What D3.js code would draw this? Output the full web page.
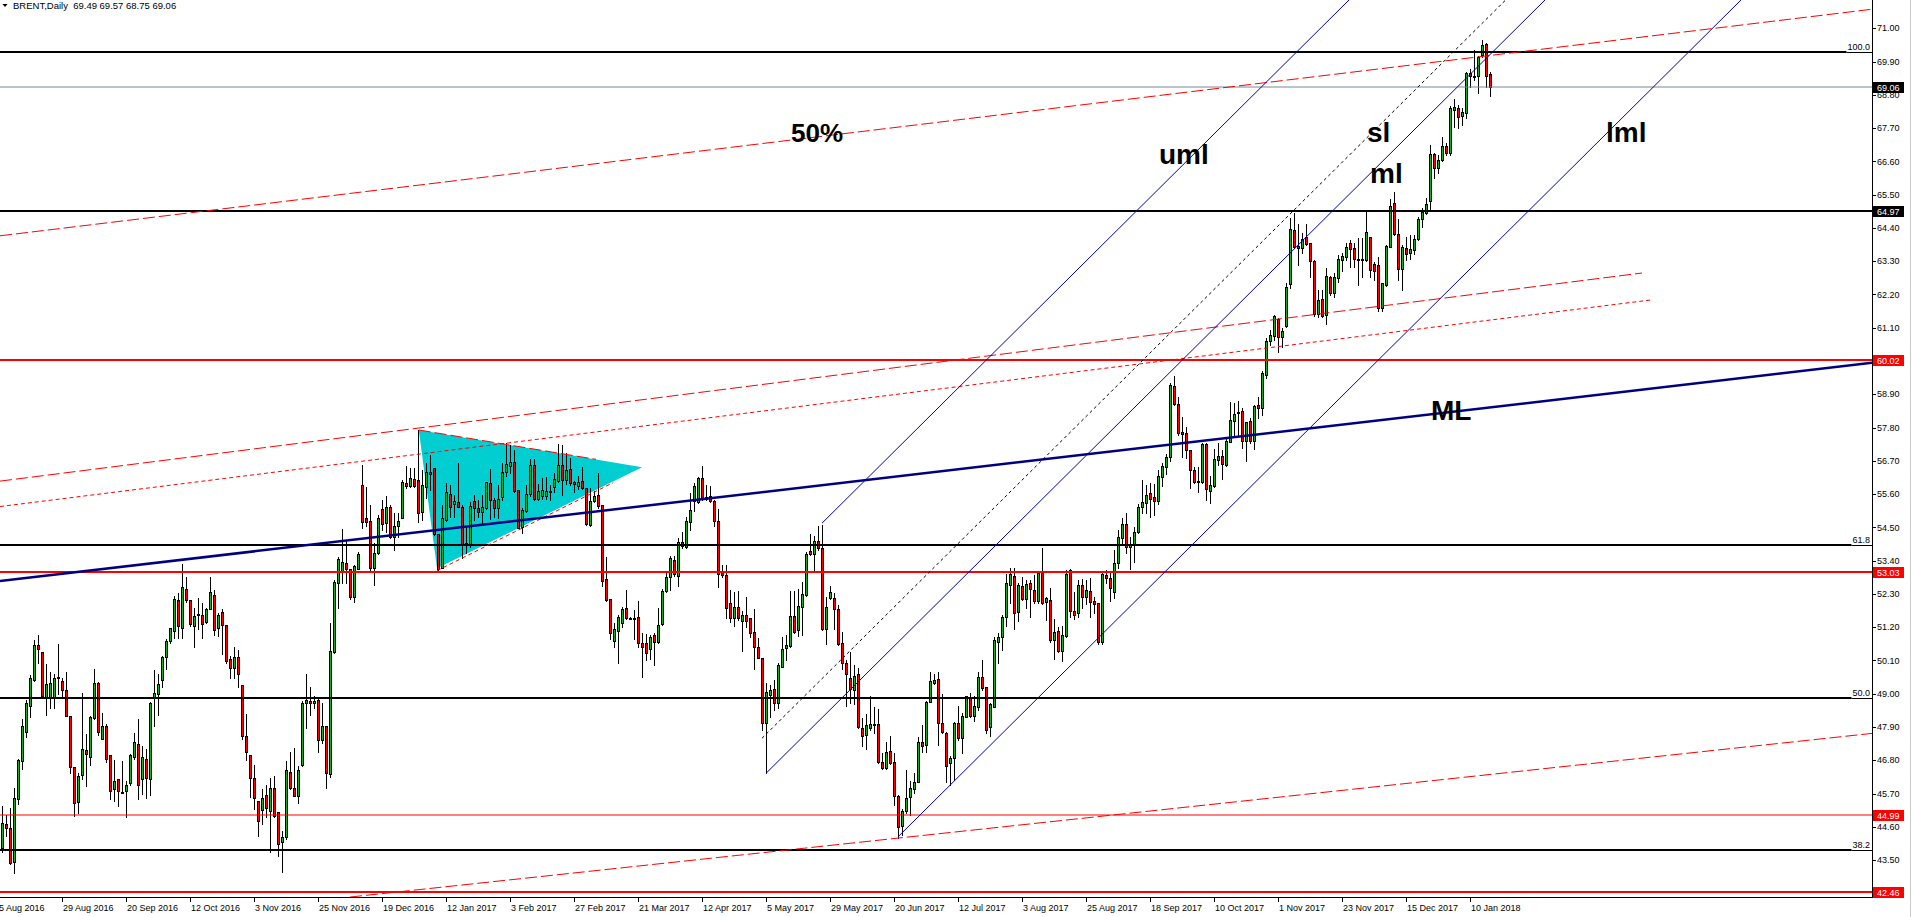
<!DOCTYPE html>
<html lang="en">
<head>
<meta charset="UTF-8">
<title>BRENT, Daily</title>
<script src="https://d3js.org/d3.v7.min.js"></script>
<style>
  html, body { margin: 0; padding: 0; background: #fff; overflow: hidden; }
  svg { display: block; font-family: "Liberation Sans", Arial, sans-serif; }
  .axis text { font-size: 9px; fill: #000; }
  .note { font-size: 28px; font-weight: bold; fill: #000; }
</style>
</head>
<body>
<svg id="chart" width="1913" height="917"></svg>
<script>
// daily candles [open, high, low, close], one row per bar
const augNov2016 = [
  [44.90,45.30,43.80,43.95],[43.89,45.29,43.78,44.74],[44.71,44.99,44.31,44.57],[44.55,45.21,43.37,43.41],
  [43.45,45.90,43.08,45.57],[45.53,46.85,45.35,46.80],[46.79,48.18,46.51,47.92],[47.74,48.81,47.58,48.71],
  [48.58,49.62,48.24,49.51],[49.46,50.77,49.42,50.60],[50.60,50.93,50.03,50.47],[50.37,50.37,48.90,48.92],
  [48.87,50.00,48.31,49.31],[48.87,49.71,48.54,49.37],[48.87,49.67,48.53,49.51],[49.51,50.64,48.99,49.54],
  [49.41,49.51,48.87,49.14],[49.14,49.71,48.27,48.28],[48.28,48.28,46.39,46.59],[46.57,46.57,44.97,45.38],
  [45.43,46.37,45.07,46.27],[46.33,49.04,46.18,47.19],[47.13,47.67,45.96,47.02],[46.90,48.27,46.66,48.22],
  [48.21,49.82,48.16,49.37],[49.37,49.40,47.63,47.74],[47.52,48.38,47.49,47.92],[47.92,48.00,46.74,46.86],
  [46.96,46.96,45.51,45.80],[45.86,46.81,45.46,46.10],[46.19,46.19,45.30,45.77],[45.74,46.77,45.71,45.71],
  [45.77,46.12,44.93,45.97],[46.04,47.01,45.98,46.96],[46.92,47.71,46.86,47.39],[47.33,48.16,45.53,45.97],
  [46.17,47.26,45.68,46.90],[46.86,47.19,45.56,46.20],[46.17,48.74,45.67,48.68],[48.86,49.78,47.94,49.04],
  [48.98,49.65,48.31,49.31],[49.44,50.25,49.21,50.23],[50.23,50.81,49.82,50.74],[50.76,51.18,50.68,51.16],
  [51.06,52.24,50.85,52.12],[52.09,52.32,50.86,51.25],[51.19,53.29,50.85,52.52],[52.45,52.85,52.02,52.10],
  [52.09,52.09,51.25,51.31],[51.25,51.85,50.55,51.56],[51.61,52.18,51.14,51.63],[51.62,52.01,50.85,51.31],
  [51.37,51.85,51.35,51.81],[51.81,52.85,51.81,52.35],[52.28,52.44,50.94,51.12],[51.16,51.68,50.91,51.59],
  [51.69,51.80,50.33,51.26],[51.29,51.29,50.03,50.09],[50.14,50.26,49.53,49.85],[49.84,50.54,49.53,50.23],
  [50.20,50.44,49.23,49.67],[49.28,49.28,47.52,47.61],[47.59,48.34,46.81,47.06],[46.99,46.99,45.60,46.22],
  [46.20,46.66,45.19,45.54],[45.47,45.47,44.31,44.81],[45.15,45.86,44.71,45.57],[45.64,46.00,44.93,45.23],
  [45.13,46.20,43.78,45.90],[45.87,46.29,44.93,44.97],[45.08,45.08,43.64,44.05],[44.11,44.47,43.12,44.25],
  [44.25,46.79,44.21,46.47],[46.43,47.09,45.85,45.90],[45.90,47.20,45.62,45.63],[45.61,46.61,45.38,46.47],
  [46.65,48.75,46.61,48.71],[48.71,49.67,47.88,48.78],[48.75,49.24,48.31,48.68],[48.68,48.92,48.54,48.75],
  [48.78,48.85,47.08,47.48],[47.48,48.71,47.36,47.95],[47.95,47.95,45.87,46.37]
];
const decMar2017 = [
  [46.34,51.35,46.26,50.41],[50.39,52.76,50.34,52.68],[52.65,53.53,51.85,53.44],[53.04,54.45,52.67,53.34],
  [53.31,54.06,52.67,53.11],[53.11,53.11,52.13,52.21],[52.21,53.25,52.04,53.22],[53.13,53.70,53.11,53.61],
  [55.90,56.56,54.47,54.69],[54.80,55.85,54.55,54.69],[54.71,55.24,53.01,53.17],[53.15,53.97,52.60,53.64],
  [53.64,54.91,53.61,54.80],[55.10,55.41,54.41,54.60],[54.63,55.54,54.36,55.16],[55.16,55.24,54.14,54.17],
  [54.19,54.96,53.75,54.55],[54.55,54.99,54.17,54.71],[54.82,56.07,54.80,56.01],[55.98,56.53,55.79,55.87],
  [55.87,56.45,55.85,56.12],[56.09,56.45,55.85,55.88],[56.07,57.72,54.69,54.99],[55.02,56.40,54.74,55.90],
  [55.85,56.62,55.46,56.34],[56.34,56.89,55.74,56.25],[56.45,56.47,54.25,54.27],[54.27,54.27,53.09,53.13],
  [53.17,55.24,53.15,54.80],[54.74,55.96,54.72,55.68],[55.60,55.90,54.85,55.16],[55.26,55.57,54.85,55.37],
  [55.33,56.64,55.16,55.18],[55.16,55.24,53.48,53.95],[53.92,54.55,53.64,53.97],[53.92,55.35,53.86,55.21],
  [55.37,55.57,54.74,55.13],[55.13,55.41,54.85,55.02],[55.02,55.57,54.63,55.16],[55.13,56.01,55.10,55.99],
  [55.98,56.42,54.78,55.41],[55.41,55.46,54.85,55.13],[55.13,55.90,54.80,55.43],[55.49,56.62,55.41,56.34],
  [56.34,57.28,56.21,56.60],[56.54,57.22,56.29,56.65],[56.67,57.06,55.68,55.70],[55.74,55.74,54.47,54.49],
  [54.52,55.13,54.33,55.07],[55.04,55.90,55.02,55.60],[55.60,56.75,55.54,56.56],[56.56,56.75,55.41,55.44],
  [55.45,55.92,55.41,55.70],[55.55,56.12,55.44,55.74],[55.54,56.15,55.44,55.71],[55.67,55.90,55.41,55.70],
  [55.85,56.29,55.68,56.09],[56.04,57.26,56.01,56.56],[56.56,57.22,55.57,56.07],[56.07,56.95,55.93,56.40],
  [56.42,56.78,55.90,55.96],[55.99,56.03,55.68,55.92],[55.88,56.20,55.77,56.01],[56.03,56.51,55.76,55.79],
  [55.79,55.79,54.58,54.60],[54.58,55.79,54.55,55.37],[55.38,55.70,55.35,55.54],[55.57,56.29,55.15,55.22],
  [55.24,55.24,52.57,52.74],[52.78,53.53,52.08,52.10],[52.12,52.12,50.81,51.00],[50.76,51.33,50.56,51.13],
  [51.07,51.60,50.01,51.55],[51.33,51.88,51.22,51.79],[51.82,52.43,51.46,51.49],[51.49,51.55,51.46,51.48],
  [51.52,51.77,50.81,51.52],[51.53,52.07,50.56,50.67],[50.69,51.00,49.56,50.56],[50.67,50.96,50.12,50.36],
  [50.49,50.94,50.14,50.87],[50.94,51.02,49.95,50.72]
];
const marJul2017 = [
  [50.72,51.83,50.69,51.27],[51.30,52.45,51.27,52.41],[52.41,53.04,52.38,52.85],[52.85,53.56,52.43,53.48],
  [53.42,53.56,52.91,52.96],[52.91,54.16,52.56,54.01],[54.01,54.34,53.81,53.88],[53.86,54.86,53.81,54.71],
  [54.67,55.63,54.42,55.08],[55.38,55.98,55.04,55.88],[55.35,56.16,55.30,56.12],[56.12,56.53,55.41,55.43],
  [55.43,55.90,55.41,55.50],[55.55,55.87,55.35,55.37],[55.37,55.41,54.53,54.72],[54.72,55.10,52.52,52.96],
  [53.00,53.26,52.85,52.93],[52.93,53.26,51.49,51.85],[51.99,52.43,51.38,51.49],[51.52,52.35,51.24,51.86],
  [51.86,52.41,51.44,51.49],[51.41,51.74,50.43,51.61],[51.61,52.21,51.22,51.39],[51.49,51.49,50.87,51.02],
  [51.03,51.79,49.81,50.56],[50.56,50.83,50.17,50.19],[50.17,50.17,47.80,48.05],[48.05,49.35,46.37,49.07],
  [48.96,49.29,48.24,49.13],[49.15,49.46,48.46,48.69],[48.69,50.01,48.52,49.95],[49.90,50.89,49.87,50.47],
  [50.50,50.94,50.10,50.61],[50.58,52.41,50.56,51.57],[51.57,52.41,51.02,51.05],[51.11,52.45,50.91,51.90],
  [51.88,52.71,50.94,52.29],[52.27,53.70,52.24,53.62],[53.72,54.28,53.59,53.61],[53.61,54.22,53.07,54.05],
  [54.05,54.53,53.75,53.81],[53.81,54.58,51.11,51.13],[51.13,52.21,50.64,51.86],[52.18,52.56,52.12,52.35],
  [52.18,52.32,51.13,51.79],[51.79,51.94,50.61,50.64],[50.67,51.05,49.82,50.01],[50.01,50.12,48.60,49.65],
  [49.53,50.39,48.69,49.15],[49.13,49.95,48.66,49.60],[49.64,49.84,47.86,47.89],[47.88,48.19,47.27,47.62],
  [47.64,48.32,47.16,47.97],[47.86,48.93,47.80,48.00],[47.97,48.57,47.69,48.00],[48.00,48.49,46.70,46.73],
  [46.73,47.03,46.51,46.54],[46.54,47.42,46.51,47.09],[47.11,47.61,46.68,46.70],[46.73,47.05,45.32,45.63],
  [45.63,45.65,44.24,44.61],[44.63,45.18,44.33,45.13],[45.14,46.48,45.05,45.54],[45.60,46.12,44.99,45.87],
  [45.85,46.37,45.71,46.09],[46.09,47.56,46.07,47.40],[47.40,47.97,47.09,47.27],[47.29,48.77,47.09,48.74],
  [48.74,49.73,48.72,49.42],[49.35,49.65,49.32,49.46],[49.48,49.73,47.29,48.05],[48.05,48.98,47.69,47.73],
  [47.69,47.75,46.09,46.62],[46.70,46.94,45.98,46.87],[46.87,48.08,46.15,48.02],[48.02,48.60,47.47,47.53],
  [47.53,48.38,47.03,48.28],[48.24,48.93,48.22,48.91],[48.88,49.01,48.24,48.28],[48.27,48.91,48.11,48.60],
  [48.57,49.73,48.46,49.57]
];
const julOct2017 = [
  [49.54,50.12,49.12,49.18],[49.21,49.24,47.71,47.80],[47.91,48.68,47.60,48.65],[48.57,50.87,48.55,50.78],
  [50.72,51.00,50.01,50.87],[50.87,51.60,50.45,51.55],[51.53,52.96,51.24,52.65],[52.60,53.15,51.99,52.96],
  [52.90,53.15,51.13,51.66],[51.69,52.65,51.42,52.60],[52.56,52.87,52.10,52.12],[52.12,52.76,51.82,52.62],
  [52.65,52.76,51.55,52.45],[52.43,52.93,51.99,52.08],[52.08,53.04,52.01,53.00],[53.00,53.81,51.97,51.99],
  [52.02,52.21,51.44,52.16],[52.10,52.49,50.70,50.77],[50.77,51.46,50.14,51.05],[51.09,51.20,50.39,50.42],
  [50.42,51.24,50.09,50.94],[50.91,53.09,50.89,52.96],[53.09,53.11,51.55,51.72],[51.74,52.38,51.46,51.60],
  [51.66,52.76,51.55,52.60],[52.60,52.78,51.82,52.19],[52.19,52.76,51.97,52.43],[52.41,52.82,51.53,52.04],
  [52.07,52.21,51.66,51.97],[52.01,52.01,50.65,50.72],[50.72,53.04,50.65,52.96],[52.93,53.09,52.65,52.84],
  [52.82,53.04,52.08,52.51],[52.38,53.75,52.18,53.31],[53.31,54.41,53.15,54.17],[54.16,54.80,53.97,54.61],
  [54.61,54.97,53.66,53.84],[53.86,54.19,53.11,53.94],[53.92,54.52,53.37,54.34],[54.34,55.26,54.30,55.16],
  [55.16,56.07,54.97,55.33],[55.30,55.90,54.97,55.57],[55.63,55.98,54.86,55.44],[55.52,55.93,54.91,55.38],
  [55.38,56.40,55.27,56.21],[56.18,56.62,55.87,56.54],[56.49,56.93,56.27,56.82],[56.84,59.26,56.71,59.21],
  [59.17,59.51,58.55,58.57],[58.57,58.82,57.55,57.63],[57.64,58.16,56.84,57.60],[57.61,57.81,56.78,57.06],
  [57.06,57.06,55.79,56.40],[56.40,56.51,55.96,56.01],[56.03,56.49,55.66,55.99],[55.99,57.28,55.96,57.25],
  [57.25,57.28,55.41,55.76],[55.72,56.20,55.30,55.90],[55.88,57.09,55.85,56.75],[56.73,57.30,56.56,56.86],
  [56.86,57.06,56.09,56.59],[56.56,57.44,56.54,57.37],[57.33,58.66,57.31,58.05],[58.03,58.60,57.55,58.24],
  [58.27,58.68,57.55,58.30],[58.35,58.44,57.14,57.36],[57.36,57.99,56.71,57.97],[58.02,58.11,57.28,57.37],
  [57.37,58.55,57.09,58.52],[58.55,58.82,58.11,58.46],[58.46,59.68,58.22,59.59]
];
const novJan2018 = [
  [59.54,60.75,59.43,60.67],[60.67,61.03,60.53,60.86],[60.83,61.52,60.69,61.49],[61.38,61.41,60.31,60.78],
  [60.78,61.08,60.47,60.99],[61.17,62.57,61.14,62.44],[62.55,64.72,62.40,64.35],[64.33,64.91,63.73,63.78],
  [63.80,64.52,63.17,63.73],[63.73,64.22,63.56,64.02],[64.09,64.53,63.84,63.87],[63.89,63.89,62.79,63.31],
  [63.32,63.34,61.50,61.55],[61.55,62.35,61.47,62.02],[62.04,62.35,61.47,61.50],[61.52,63.06,61.21,62.82],
  [62.79,62.81,62.18,62.24],[62.24,62.90,62.13,62.77],[62.76,63.51,62.62,63.36],[63.34,63.56,62.99,63.47],
  [63.43,63.91,63.34,63.76],[63.89,64.00,63.12,63.69],[63.73,63.89,63.12,63.37],[63.36,64.06,62.51,63.34],
  [63.36,64.06,62.79,63.34],[63.34,64.99,63.32,64.25],[64.09,64.11,62.79,63.01],[63.21,63.29,62.68,62.99],
  [63.17,63.45,61.67,61.74],[61.74,62.59,61.67,62.57],[62.51,63.84,62.49,63.80],[63.78,65.36,63.76,65.13],
  [65.21,65.60,64.17,64.20],[64.20,64.69,62.68,63.03],[63.03,63.84,62.35,63.76],[63.73,64.11,63.34,63.54],
  [63.56,64.17,63.36,63.70],[63.67,64.17,63.54,64.03],[64.02,64.77,64.00,64.69],[64.69,65.05,64.44,64.92],
  [64.90,65.38,64.86,65.19],[65.30,67.14,64.99,66.83],[66.83,66.87,66.04,66.37],[66.37,66.81,66.21,66.65],
  [66.65,67.42,66.62,67.11],[67.11,67.20,66.81,66.89],[66.87,68.43,66.81,68.38],[68.30,68.66,67.75,68.39],
  [68.35,68.46,67.69,68.08],[68.11,68.35,67.80,68.24],[68.19,69.57,68.02,69.51],[69.51,69.64,69.05,69.42],
  [69.40,70.28,69.29,69.43],[69.43,70.08,68.87,70.06],[70.12,70.61,70.06,70.45],[70.48,70.50,69.05,69.43],
  [69.49,69.57,68.75,69.06]
];

// date labels under every 16th bar
const dateLabels = ['5 Aug 2016','29 Aug 2016','20 Sep 2016','12 Oct 2016','3 Nov 2016','25 Nov 2016',
  '19 Dec 2016','12 Jan 2017','3 Feb 2017','27 Feb 2017','21 Mar 2017','12 Apr 2017','5 May 2017',
  '29 May 2017','20 Jun 2017','12 Jul 2017','3 Aug 2017','25 Aug 2017','18 Sep 2017','10 Oct 2017',
  '1 Nov 2017','23 Nov 2017','15 Dec 2017','10 Jan 2018'];
const priceTicks = [71.00,69.90,68.80,67.70,66.60,65.50,64.40,63.30,62.20,61.10,60.00,58.90,57.80,
  56.70,55.60,54.50,53.40,52.30,51.20,50.10,49.00,47.90,46.80,45.70,44.60,43.50,42.40];

// horizontal levels
const redLevels = [60.02, 53.03, 42.46];
const thinRedLevels = [44.99];
const blackLevels = [64.97];
const fibLevels = [['100.0', 70.21], ['61.8', 53.92], ['50.0', 48.87], ['38.2', 43.85]];
const bid = 69.06;

// trend lines as [bar, price] pairs
const channelTop = [[0.5, 64.14], [468.5, 71.63]];
const channelMid = [[0.5, 56.03], [411, 62.91]];
const channelDot = [[0.5, 55.19], [413.25, 62.02]];
const channelLow = [[88, 42.28], [468.5, 47.69]];
const medianML = [[0.5, 52.73], [468.5, 59.94]];
const triangle = [[105.2, 57.72], [161, 56.49], [109.75, 53.15]];
const triUpper = [[105.2, 57.72], [149.5, 56.75]];
const triLower = [[109.75, 53.07], [153.8, 55.98]];
// pitchfork pivots and the parallel dashed line start
const forkPivots = [[192, 46.37], [206, 54.64], [225, 44.27]];
const slStart = [191, 47.53];

const notes = [['50%', 198.25, 67.24, 26], ['uml', 290.25, 66.53, 28], ['sl', 342.25, 67.25, 28],
  ['ml', 343, 65.90, 28], ['lml', 402, 67.23, 28], ['ML', 358.25, 58.05, 28]];

const candles = [].concat(augNov2016, decMar2017, marJul2017, julOct2017, novJan2018);

const W = 1872, H = 897;
const x = d3.scaleLinear().domain([0, 468.5]).range([-2, W]);
const y = d3.scaleLinear().domain([71, 42.46]).range([28.3, 891.6]);
const px = p => [x(p[0]), y(p[1])];

const svg = d3.select('#chart');
svg.append('defs').append('clipPath').attr('id', 'plotClip')
  .append('rect').attr('x', 0).attr('y', 0).attr('width', W).attr('height', H);

const plot = svg.append('g').attr('clip-path', 'url(#plotClip)');

// triangle sits behind the candles
plot.append('polygon')
  .attr('points', triangle.map(p => px(p).join(',')).join(' '))
  .attr('fill', '#00ced1');

// candles
const bars = plot.append('g').attr('shape-rendering', 'crispEdges')
  .selectAll('g').data(candles).enter().append('g');
bars.append('line')
  .attr('x1', (d, i) => x(i) + 0.5).attr('x2', (d, i) => x(i) + 0.5)
  .attr('y1', d => Math.round(y(d[1]))).attr('y2', d => Math.round(y(d[2])) + 1)
  .attr('stroke', '#000');
bars.append('rect')
  .attr('x', (d, i) => x(i) - 0.5).attr('width', 2)
  .attr('y', d => Math.round(y(Math.max(d[0], d[3]))) + 0.5)
  .attr('height', d => Math.max(1, Math.round(y(Math.min(d[0], d[3]))) - Math.round(y(Math.max(d[0], d[3])))))
  .attr('fill', d => d[3] >= d[0] ? '#22aa22' : '#ff0000')
  .attr('stroke', '#000');

// horizontal levels
function hline(v, color, width, x2) {
  const yy = Math.round(y(v));
  plot.append('line').attr('x1', 0).attr('x2', x2 || W).attr('y1', yy).attr('y2', yy)
    .attr('stroke', color).attr('stroke-width', width);
}
hline(bid, '#778899', 1);
redLevels.forEach(v => hline(v, '#ff0000', 2));
thinRedLevels.forEach(v => hline(v, '#ff0000', 1));
blackLevels.forEach(v => hline(v, '#000', 2));
fibLevels.forEach(f => {
  const yy = Math.round(y(f[1]));
  const lbl = svg.append('text').attr('class', 'axis').attr('x', W - 2).attr('y', yy - 2)
    .attr('text-anchor', 'end').style('font-size', '9px').text(f[0]);
  const start = W - 2 - lbl.node().getComputedTextLength() - 1;
  hline(f[1], '#000', 2, start);
  plot.append('line').attr('x1', start).attr('x2', W).attr('y1', yy + 0.5).attr('y2', yy + 0.5)
    .attr('stroke', '#000').attr('stroke-width', 1);
});

// trend lines
function seg(pts, color, width, dash) {
  const a = px(pts[0]), b = px(pts[1]);
  plot.append('line').attr('x1', a[0]).attr('y1', a[1]).attr('x2', b[0]).attr('y2', b[1])
    .attr('stroke', color).attr('stroke-width', width)
    .attr('stroke-dasharray', dash || null);
}
seg(channelTop, '#ff0000', 1, '12,4');
seg(channelMid, '#ff0000', 1, '12,4');
seg(channelDot, '#ff0000', 1, '4,3');
seg(channelLow, '#ff0000', 1, '12,4');
seg(triUpper, '#ff0000', 1, '12,4');
seg(triLower, '#ff0000', 1, '4,3');
seg(medianML, '#000080', 2.5);

// Andrews pitchfork: rays from each pivot, parallel to pivot1 -> midpoint(pivot2, pivot3)
const f1 = px(forkPivots[0]), f2 = px(forkPivots[1]), f3 = px(forkPivots[2]);
const dir = [(f2[0] + f3[0]) / 2 - f1[0], (f2[1] + f3[1]) / 2 - f1[1]];
function ray(p, color, dash) {
  const t = p[1] / -dir[1];
  plot.append('line').attr('x1', p[0]).attr('y1', p[1])
    .attr('x2', p[0] + t * dir[0]).attr('y2', 0)
    .attr('stroke', color).attr('stroke-width', 1).attr('stroke-dasharray', dash || null);
}
[f1, f2, f3].forEach(p => ray(p, '#0000a0'));
ray(px(slStart), '#000', '3,3');

// text notes
notes.forEach(n => {
  plot.append('text').attr('class', 'note').attr('x', x(n[1])).attr('y', y(n[2]))
    .style('font-size', n[3] + 'px').text(n[0]);
});

// right price axis
const ax = svg.append('g').attr('class', 'axis');
ax.append('line').attr('x1', W + 0.5).attr('x2', W + 0.5).attr('y1', 0).attr('y2', H + 1).attr('stroke', '#000');
ax.append('line').attr('x1', 1910.5).attr('x2', 1910.5).attr('y1', 0).attr('y2', 917).attr('stroke', '#c8c8c8');
ax.selectAll('line.ytick').data(priceTicks).enter().append('line')
  .attr('x1', W).attr('x2', W + 4)
  .attr('y1', d => Math.round(y(d)) + 0.5).attr('y2', d => Math.round(y(d)) + 0.5).attr('stroke', '#000');
ax.selectAll('text.ytick').data(priceTicks).enter().append('text')
  .attr('x', W + 5).attr('y', d => y(d)).attr('dy', '0.35em').text(d => d.toFixed(2));

// price tags
const tags = [[bid, '#000'], [blackLevels[0], '#000']]
  .concat(redLevels.map(v => [v, '#ff0000']), thinRedLevels.map(v => [v, '#ff0000']));
tags.forEach(t => {
  const yy = Math.round(y(t[0]));
  ax.append('rect').attr('x', W + 1).attr('y', yy - 5).attr('width', 31).attr('height', 11).attr('fill', t[1]);
  ax.append('text').attr('x', W + 5).attr('y', yy + 0.5).attr('dy', '0.35em').style('fill', '#fff')
    .text(t[0].toFixed(2));
});

// bottom time axis
ax.append('line').attr('x1', 0).attr('x2', W + 1).attr('y1', H + 0.5).attr('y2', H + 0.5).attr('stroke', '#000');
ax.selectAll('line.xtick').data(dateLabels).enter().append('line')
  .attr('x1', (d, i) => x(i * 16) + 0.5).attr('x2', (d, i) => x(i * 16) + 0.5)
  .attr('y1', H).attr('y2', H + 5).attr('stroke', '#000');
ax.selectAll('text.xtick').data(dateLabels).enter().append('text')
  .attr('x', (d, i) => x(i * 16) + 1).attr('y', 910.5).text(d => d);

// header
svg.append('polygon').attr('points', '2.5,4 7.5,4 5,7').attr('fill', '#000');
svg.append('text').attr('x', 13).attr('y', 9).style('font-size', '9.5px').style('white-space', 'pre')
  .text('BRENT,Daily  ' + novJan2018[novJan2018.length - 1].map(v => v.toFixed(2)).join(' '));
</script>
</body>
</html>
